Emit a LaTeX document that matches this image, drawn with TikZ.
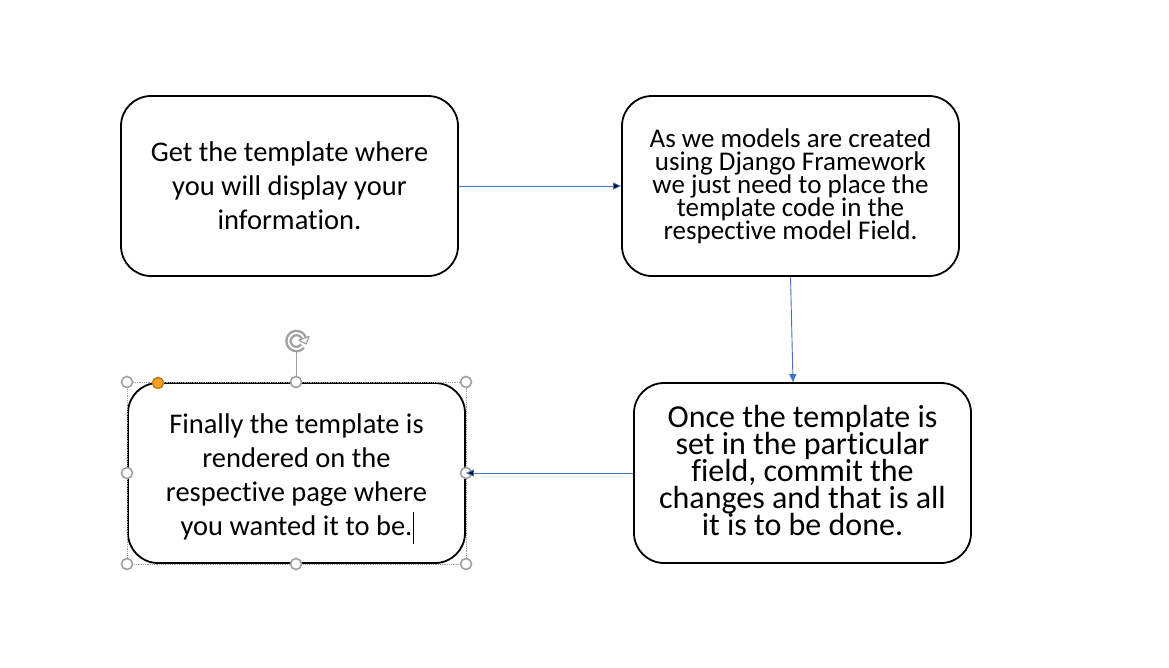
\documentclass[tikz,border=0pt]{standalone}
\usepackage{fontspec}
\setmainfont{Carlito}[Ligatures=NoCommon]
\usetikzlibrary{arrows.meta,calc}
\definecolor{arrowblue}{HTML}{4472C4}
\definecolor{handlegrey}{HTML}{A0A0A0}
\definecolor{handleorange}{HTML}{F4A023}
\newcommand{\tightlines}{\lineskiplimit=-50pt\relax}
\begin{document}
\begin{tikzpicture}[x=1pt, y=-1pt,
  box/.style={shape=rectangle, draw=black, line width=1.8pt, rounded corners=30pt, minimum width=337pt, minimum height=180pt, align=center, inner sep=0pt},
  handle/.style={shape=circle, draw=handlegrey, fill=white, line width=1.6pt, minimum size=11pt, inner sep=0pt}]
\useasboundingbox (0,0) rectangle (1169,667);
\node[box, font=\fontsize{28.5}{34}\selectfont\tightlines] (1) at (289.5,186) {Get the template where\\you will display your\\information.};
\node[box, font=\fontsize{27}{23}\selectfont\tightlines] (2) at (790.5,186) {As we models are created\\using Django Framework\\we just need to place the\\template code in the\\respective model Field.};
\node[box, font=\fontsize{32}{27}\selectfont\tightlines] (3) at (802.5,473) {Once the template is\\set in the particular\\field, commit the\\changes and that is all\\it is to be done.\rule[-6pt]{0pt}{0pt}};
\node[box, font=\fontsize{28.5}{34}\selectfont\tightlines] (4) at (296.5,473) {\rule{0pt}{28pt}Finally the template is\\rendered on the\\respective page where\\you wanted it to be.};
% selection of box 4
\draw[handlegrey, line width=0.8pt, densely dotted] (127,382) rectangle (466,564);
\coordinate (R) at (296.5,341);
\coordinate (E) at ($(R)+(340:8)$);
\draw[handlegrey, line width=1pt] (4.north) -- (296.5,352);
\draw[handlegrey, line width=2.4pt, double=white, double distance=1.8pt] (R) ++(40:8) arc (40:340:8);
\filldraw[handlegrey, fill=white, line width=1.2pt, line join=round] ($(E)+(70:6)$) -- ($(E)+(160:5.5)$) -- ($(E)+(340:5.5)$) -- cycle;
\foreach \p in {(127,382),(296,382),(466,382),(127,473),(466,473),(127,564),(296,564),(466,564)}
  \node[handle] at \p {};
\node[handle, fill=handleorange, draw=handleorange!80!black] (H) at (158,383) {};
\draw[black, line width=0.8pt] (413,512) -- (413,544);
% arrows
\path [-{Triangle[length=8pt,width=7pt]}, line width=0.9pt, draw=arrowblue] (1) edge (2);
\draw [-{Triangle[length=8pt,width=7pt]}, line width=0.9pt, arrowblue] (2.south) -- ([xshift=-9.5pt]3.north);
\path [-{Triangle[length=8pt,width=7pt]}, line width=0.9pt, draw=arrowblue] (3) edge (4);
\end{tikzpicture}
\end{document}
